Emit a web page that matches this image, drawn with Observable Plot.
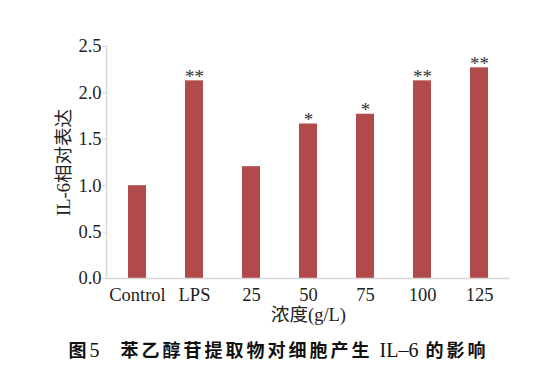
<!DOCTYPE html>
<html>
<head>
<meta charset="utf-8">
<script src="https://cdn.jsdelivr.net/npm/d3@7"></script>
<script src="https://cdn.jsdelivr.net/npm/@observablehq/plot@0.6"></script>
<style>
  html, body { margin: 0; padding: 0; background: #fff; }
  #chart svg { display: block; }
  #caption {
    width: 557px;
    text-align: center;
    font-family: "Noto Sans CJK SC", "Liberation Serif", sans-serif;
    font-weight: bold;
    font-size: 18px;
    letter-spacing: 3px;
    color: #111;
    line-height: 22px;
    margin-top: 10px;
  }
  #caption .lat { font-family: "Liberation Serif", serif; font-weight: normal; letter-spacing: 0; font-size: 20px; }
</style>
</head>
<body>
<div id="chart"></div>
<div id="caption">图<span class="lat">5</span>　苯乙醇苷提取物对细胞产生 <span class="lat">IL–6</span> 的影响</div>
<script>
const categories = ["Control", "LPS", "25", "50", "75", "100", "125"];
const values = [1.0, 2.13, 1.205, 1.665, 1.77, 2.13, 2.27];
const marks = ["", "**", "", "*", "*", "**", "**"];
const yTicks = [0, 0.5, 1.0, 1.5, 2.0, 2.5];

const data = categories.map((c, i) => ({cat: c, value: values[i], mark: marks[i]}));

const chart = Plot.plot({
  width: 557,
  height: 328,
  marginLeft: 106,
  marginRight: 47,
  marginTop: 46,
  marginBottom: 50,
  style: {fontFamily: "'Liberation Serif', 'Noto Sans CJK SC', serif", fontSize: "18px", color: "#222", background: "#fff"},
  x: {domain: categories, paddingInner: 0.69, paddingOuter: 0.36},
  y: {domain: [0, 2.5]},
  marks: [
    Plot.barY(data, {x: "cat", y: "value", fill: "#b14a4b"}),
    Plot.text(data, {x: "cat", y: "value", text: "mark", lineAnchor: "bottom", dy: 2, fontSize: 19, fill: "#333"}),
    Plot.ruleY([0], {stroke: "#d8d8d8", strokeWidth: 1.5}),
    Plot.frame({anchor: "left", stroke: "#d8d8d8", strokeWidth: 1.5}),
    Plot.axisY({ticks: yTicks, tickFormat: d3.format(".1f"), tickSize: 4, tickPadding: 1, stroke: "#d8d8d8",
      label: "IL-6相对表达", labelAnchor: "center", labelArrow: "none", labelOffset: 50, fontSize: 18.5}),
    Plot.axisX({tickSize: 0, tickPadding: 9, label: "浓度(g/L)", labelAnchor: "center", labelArrow: "none", labelOffset: 42, fontSize: 18.5})
  ]
});
document.getElementById("chart").appendChild(chart);
</script>
</body>
</html>
